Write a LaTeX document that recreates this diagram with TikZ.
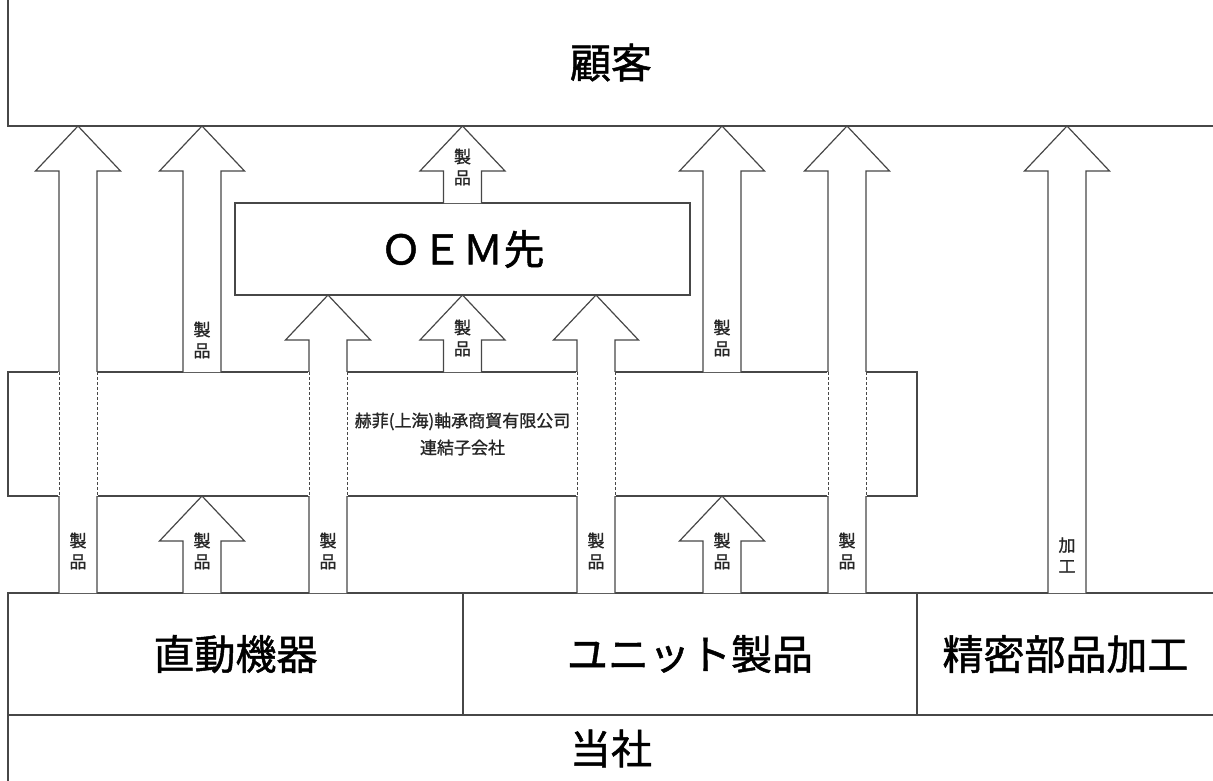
\documentclass[tikz,border=0pt]{standalone}
\usepackage{fontspec}
\newfontfamily\jp[FakeBold=1.2]{Noto Sans CJK JP}
\usetikzlibrary{calc}
\definecolor{linecol}{gray}{0.28}
\tikzset{
  box/.style={draw=linecol, line width=1.2pt, rectangle, inner sep=0pt, outer sep=0pt,
    font=\jp\fontsize{41}{48}\selectfont},
  arr/.style={draw=linecol, fill=white, line width=1.2pt, line join=miter},
  lbl/.style={font=\jp\fontsize{17}{21}\selectfont, align=center, inner sep=0pt, text=black!85},
  subtxt/.style={font=\jp\fontsize{17}{27}\selectfont, align=center, text=black!85},
  innerdash/.style={draw=linecol, line width=0.9pt, dash pattern=on 3pt off 2pt},
  cover/.style={draw=white, line width=2.2pt}
}
\newcommand\blockarrow[3]{%
  \draw[arr] let \p1=(#1,0 |- #2), \p2=(#1,0 |- #3) in
    ({\x1-19pt},\y1) -- ({\x1-19pt},{\y2-45pt}) -- ({\x1-42.5pt},{\y2-45pt}) --
    (\x1,\y2) -- ({\x1+42.5pt},{\y2-45pt}) -- ({\x1+19pt},{\y2-45pt}) -- ({\x1+19pt},\y1);}
\newcommand\crossbox[1]{%
  \draw[cover] let \p1=(#1,0 |- sub.north), \p2=(#1,0 |- sub.south) in
    ({\x1-19pt},\y1) -- ({\x1-19pt},\y2) ({\x1+19pt},\y1) -- ({\x1+19pt},\y2);
  \draw[innerdash] let \p1=(#1,0 |- sub.north), \p2=(#1,0 |- sub.south) in
    ({\x1-19pt},\y1) -- ({\x1-19pt},\y2) ({\x1+19pt},\y1) -- ({\x1+19pt},\y2);}
\begin{document}
\begin{tikzpicture}[x=1pt,y=-1pt]
\useasboundingbox (0,0) rectangle (1213,781);
% boxes
\node[box, minimum width=1206pt, minimum height=127pt] (kokyaku) at (611,62.5) {顧客};
\node[box, minimum width=455pt, minimum height=92pt] (oem) at (462.5,249) {ＯＥＭ先};
\node[box, minimum width=909pt, minimum height=124pt, subtxt] (sub) at (462.5,434)
  {赫菲(上海)軸承商貿有限公司\\連結子会社};
\node[box, minimum width=455pt, minimum height=122pt] (chokudo) at (235.5,654) {直動機器};
\node[box, minimum width=454pt, minimum height=122pt] (unit) at (690,654) {ユニット製品};
\node[box, minimum width=297pt, minimum height=122pt] (seimitsu) at (1065.5,654) {精密部品加工};
\node[box, minimum width=1206pt, minimum height=67pt] (tousha) at (611,748.5) {当社};
% arrows
\blockarrow{78}{chokudo.north}{kokyaku.south}
\blockarrow{202}{sub.north}{kokyaku.south}
\blockarrow{202}{chokudo.north}{sub.south}
\blockarrow{328}{chokudo.north}{oem.south}
\blockarrow{462.5}{sub.north}{oem.south}
\blockarrow{462.5}{oem.north}{kokyaku.south}
\blockarrow{596}{unit.north}{oem.south}
\blockarrow{722}{unit.north}{sub.south}
\blockarrow{722}{sub.north}{kokyaku.south}
\blockarrow{847}{unit.north}{kokyaku.south}
\blockarrow{1067}{seimitsu.north}{kokyaku.south}
% dashed shaft edges inside the subsidiary box
\crossbox{78}
\crossbox{328}
\crossbox{596}
\crossbox{847}
% labels
\node[lbl] (l1) at (78,551) {製\\品};
\node[lbl] (l2) at (202,340) {製\\品};
\node[lbl] (l3) at (202,551) {製\\品};
\node[lbl] (l4) at (328,551) {製\\品};
\node[lbl] (l5) at (462.5,338) {製\\品};
\node[lbl] (l6) at (462.5,167) {製\\品};
\node[lbl] (l7) at (596,551) {製\\品};
\node[lbl] (l8) at (722,551) {製\\品};
\node[lbl] (l9) at (722,338) {製\\品};
\node[lbl] (l10) at (847,551) {製\\品};
\node[lbl] (l11) at (1067,555) {加\\工};
\end{tikzpicture}
\end{document}
